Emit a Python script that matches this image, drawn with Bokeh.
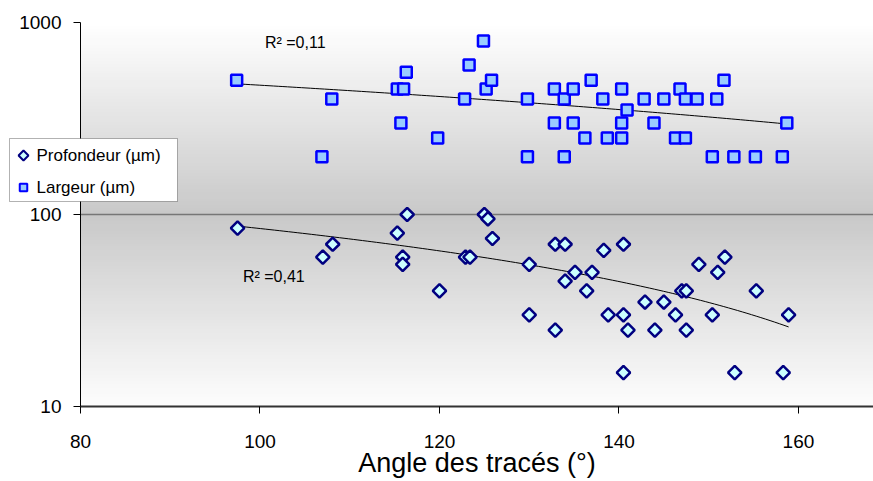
import numpy as np
from bokeh.plotting import figure
from bokeh.layouts import column
from bokeh.models import (BoxAnnotation, Label, FixedTicker,
                          NumeralTickFormatter, ColumnDataSource)
from bokeh.core.properties import value
from bokeh.embed import file_html
from bokeh.resources import INLINE

# ---------------- data ----------------
prof_angle = [97.5, 107.0, 108.1, 115.3, 115.9, 115.9, 116.4, 120.0, 122.9, 123.4,
              125.0, 125.4, 125.9, 130.0, 130.0, 132.9, 132.9, 134.0, 134.0, 135.1,
              136.4, 137.0, 138.3, 138.8, 140.5, 140.5, 140.5, 141.0, 142.9, 144.0,
              145.0, 146.3, 147.0, 147.5, 147.5, 148.9, 150.4, 151.0, 151.8, 152.9,
              155.3, 158.3, 158.9]
prof_um = [85, 60, 70, 80, 60, 55, 100, 40, 60, 60,
           100, 95, 75, 55, 30, 70, 25, 70, 45, 50,
           40, 50, 65, 30, 70, 30, 15, 25, 35, 25,
           35, 30, 40, 40, 25, 55, 30, 50, 60, 15,
           40, 15, 30]

larg_angle = [97.4, 106.9, 108.0, 115.3, 115.7, 116.0, 116.3, 119.8, 122.8, 123.3,
              124.9, 125.2, 125.8, 129.8, 129.8, 132.8, 132.8, 133.9, 133.9, 134.9,
              134.9, 136.2, 136.9, 138.2, 138.7, 140.3, 140.3, 140.3, 140.9, 142.8,
              143.9, 145.0, 146.3, 146.8, 147.4, 147.4, 148.7, 150.4, 150.9, 151.7,
              152.8, 155.2, 158.2, 158.7]
larg_um = [500, 200, 400, 450, 300, 450, 550, 250, 400, 600,
           800, 450, 500, 400, 200, 450, 300, 400, 200, 450,
           300, 250, 500, 400, 250, 450, 300, 250, 350, 400,
           300, 400, 250, 450, 400, 250, 400, 200, 400, 500,
           200, 200, 200, 300]

x_ticks = [80, 100, 120, 140, 160]
y_ticks = [10, 100, 1000]
series_names = ["Profondeur (µm)", "Largeur (µm)"]
r2_prof = "R² =0,41"
r2_larg = "R² =0,11"
x_title = "Angle des tracés (°)"
FONT = "Liberation Sans"

PROF_STYLE = dict(marker="square", angle=45, angle_units="deg",
                  fill_color="#ccffff", line_color="#000080")
LARG_STYLE = dict(marker="square", fill_color="#99ccff", line_color="#0000ff")

# ---------------- main figure ----------------
p = figure(width=873, height=481, x_range=(80, 168.36), y_range=(10, 1000),
           y_axis_type="log", output_backend="svg", toolbar_location=None,
           min_border_left=80, min_border_right=0, min_border_top=22,
           min_border_bottom=75)
p.outline_line_color = None
p.background_fill_color = "white"
p.border_fill_color = "white"

# gradient background (white -> gray at 100 -> white)
N = 60
top_gray, mid_gray, bot_gray = 255, 200, 253
for i in range(N):
    f = i / N
    e = 3 - f
    g = int(round(top_gray + (mid_gray - top_gray) * f))
    p.add_layout(BoxAnnotation(bottom=100, top=10 ** e, fill_color=(g, g, g),
                               fill_alpha=1, line_color=None, level="image"))
for i in range(N):
    f = i / N
    e = 1 + f
    g = int(round(bot_gray + (mid_gray - bot_gray) * f))
    p.add_layout(BoxAnnotation(bottom=10 ** e, top=100, fill_color=(g, g, g),
                               fill_alpha=1, line_color=None, level="image"))

# grid
p.xgrid.visible = False
p.ygrid.ticker = FixedTicker(ticks=y_ticks)
p.ygrid.grid_line_color = "#777777"
p.ygrid.grid_line_width = 1.5

# axes
p.xaxis.ticker = FixedTicker(ticks=x_ticks)
p.yaxis.ticker = FixedTicker(ticks=y_ticks)
p.yaxis.formatter = NumeralTickFormatter(format="0")
for ax in (p.xaxis, p.yaxis):
    ax.minor_tick_line_color = None
    ax.major_tick_out = 7
    ax.major_tick_in = 0
    ax.major_tick_line_color = "black"
    ax.axis_line_color = "black"
    ax.major_label_text_font = FONT
    ax.major_label_text_font_size = "19px"
    ax.major_label_text_color = "black"
p.xaxis.axis_line_color = "#333333"
p.xaxis.axis_line_width = 2
p.xaxis.major_label_standoff = 21
p.yaxis.major_label_standoff = 12
p.xaxis.axis_label = x_title
p.xaxis.axis_label_text_font = FONT
p.xaxis.axis_label_text_font_size = "27px"
p.xaxis.axis_label_text_font_style = "normal"
p.xaxis.axis_label_text_color = "black"
p.xaxis.axis_label_standoff = -3

# trend lines (linear fits)
cp = np.polyfit(prof_angle, prof_um, 1)
cl = np.polyfit(larg_angle, larg_um, 1)
xp = np.linspace(min(prof_angle), max(prof_angle), 120)
xl = np.linspace(min(larg_angle), max(larg_angle), 120)
p.line(xp, np.polyval(cp, xp), line_color="black", line_width=1)
p.line(xl, np.polyval(cl, xl), line_color="black", line_width=1)

# points
src_p = ColumnDataSource(dict(x=prof_angle, y=prof_um))
src_l = ColumnDataSource(dict(x=larg_angle, y=larg_um))
p.scatter("x", "y", source=src_p, size=9.5, line_width=2.5, **PROF_STYLE)
p.scatter("x", "y", source=src_l, size=11, line_width=2.5, **LARG_STYLE)

# R² labels
p.add_layout(Label(x=100.55, y=787, text=r2_larg, text_font=FONT,
                   text_font_size="16px", text_baseline="middle", text_color="black"))
p.add_layout(Label(x=98.1, y=47.5, text=r2_prof, text_font=FONT,
                   text_font_size="16px", text_baseline="middle", text_color="black"))

# ---------------- legend box (overlaid, overlapping the y axis) ----------------
lg = figure(width=250, height=66, x_range=(0, 170), y_range=(0, 66),
            output_backend="svg", toolbar_location=None,
            x_axis_location=None, y_axis_location=None,
            min_border_left=80, min_border_right=0, min_border_top=0,
            min_border_bottom=0,
            styles={"position": "absolute", "left": "-72px", "top": "137px",
                    "z-index": "10"})
lg.grid.visible = False
lg.background_fill_color = None
lg.border_fill_color = None
lg.outline_line_color = None
lg.add_layout(BoxAnnotation(left=1, right=169, bottom=2, top=65,
                            fill_color="white", fill_alpha=1,
                            line_color="black", line_width=1, level="underlay"))
leg_src = ColumnDataSource(dict(gy=[48, 16], tx=[28, 28], label=series_names))
lg.scatter(x=15, y=48, size=7, line_width=2, **PROF_STYLE)
lg.scatter(x=15, y=16, size=7.5, line_width=2, **LARG_STYLE)
lg.text(x="tx", y="gy", text="label", source=leg_src, text_font=value(FONT),
        text_font_size="17px", text_baseline="middle", text_color="black")

layout = column(p, lg)
open("out.html", "w").write(file_html(layout, INLINE))
